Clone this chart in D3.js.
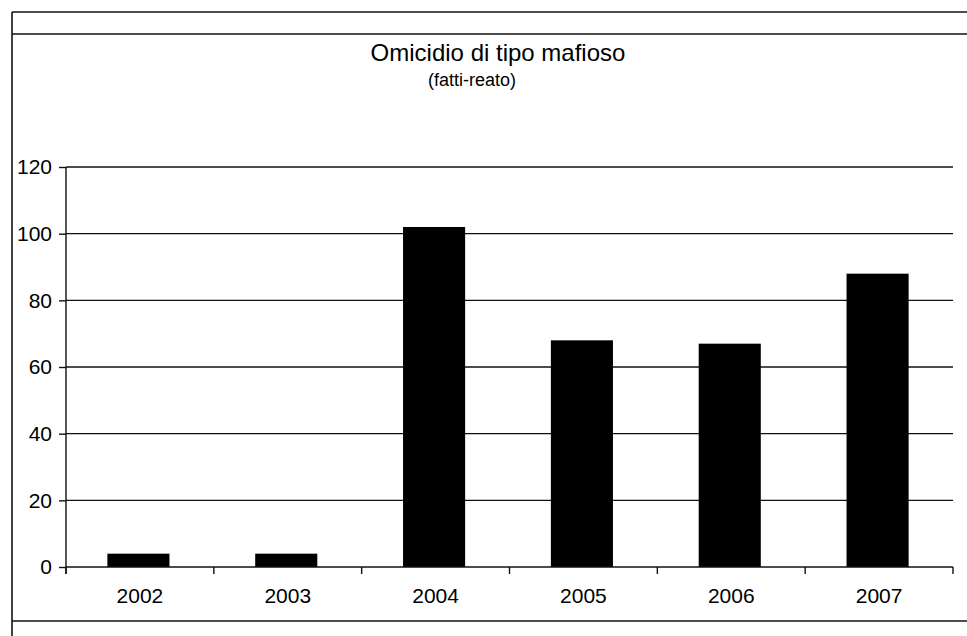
<!DOCTYPE html>
<html>
<head>
<meta charset="utf-8">
<script src="https://cdn.jsdelivr.net/npm/d3@7"></script>
<style>
  html, body { margin: 0; padding: 0; background: #fff; }
  svg { display: block; font-family: "Liberation Sans", Arial, Helvetica, sans-serif; }
</style>
</head>
<body>
<svg id="chart" width="967" height="636"></svg>
<script>
const categories = ["2002", "2003", "2004", "2005", "2006", "2007"];
const values = [4, 4, 102, 68, 67, 88];
const yTicks = [0, 20, 40, 60, 80, 100, 120];
const titleText = "Omicidio di tipo mafioso";
const subtitleText = "(fatti-reato)";

const svg = d3.select("#chart");
const W = 967, H = 636;

// outer frame lines
const frame = svg.append("g").attr("stroke", "#111").attr("stroke-width", 1.6).attr("fill", "none");
frame.append("line").attr("x1", 12).attr("x2", W).attr("y1", 12).attr("y2", 12);
frame.append("line").attr("x1", 12).attr("x2", W).attr("y1", 34).attr("y2", 34);
frame.append("line").attr("x1", 12).attr("x2", W).attr("y1", 621).attr("y2", 621);
frame.append("line").attr("x1", 12).attr("x2", 12).attr("y1", 12).attr("y2", H);

const pLeft = 66, pRight = 953, pTop = 167, pBottom = 567;

const x = d3.scaleBand().domain(categories).range([pLeft, pRight]).padding(0);
const y = d3.scaleLinear().domain([0, 120]).range([pBottom, pTop]);

// gridlines
svg.append("g").selectAll("line")
  .data(yTicks.filter(d => d > 0))
  .join("line")
  .attr("x1", pLeft).attr("x2", pRight)
  .attr("y1", d => y(d)).attr("y2", d => y(d))
  .attr("stroke", "#111").attr("stroke-width", 1.4);

// bars
const barFrac = 0.42;
svg.append("g").selectAll("rect")
  .data(categories.map((c, i) => ({c, v: values[i]})))
  .join("rect")
  .attr("x", d => x(d.c) + x.bandwidth() * (1 - barFrac) / 2 - 1.5)
  .attr("width", x.bandwidth() * barFrac)
  .attr("y", d => y(d.v))
  .attr("height", d => y(0) - y(d.v))
  .attr("fill", "#000");

// y axis
const yAxis = svg.append("g")
  .attr("transform", `translate(${pLeft},0)`)
  .call(d3.axisLeft(y).tickValues(yTicks).tickSize(7).tickPadding(7).tickSizeOuter(0));
yAxis.select(".domain").attr("stroke", "#111").attr("stroke-width", 1.4)
  .attr("d", `M0,${pTop}V${pBottom + 7}`);
yAxis.selectAll(".tick line").attr("stroke", "#111").attr("stroke-width", 1.4);
yAxis.selectAll("text").attr("font-size", 21).attr("fill", "#000")
  .attr("font-family", "'Liberation Sans', Arial, sans-serif");

// x axis
const xAxis = svg.append("g").attr("transform", `translate(0,${pBottom})`);
xAxis.append("line").attr("x1", pLeft).attr("x2", pRight).attr("y1", 0).attr("y2", 0)
  .attr("stroke", "#111").attr("stroke-width", 1.4);
const boundaries = categories.map(c => x(c)).concat([x(categories[categories.length - 1]) + x.bandwidth()]);
xAxis.selectAll("line.tk").data(boundaries).join("line").attr("class", "tk")
  .attr("x1", d => d).attr("x2", d => d).attr("y1", 0).attr("y2", 7)
  .attr("stroke", "#111").attr("stroke-width", 1.4);
xAxis.selectAll("text").data(categories).join("text")
  .attr("x", d => x(d) + x.bandwidth() / 2)
  .attr("y", 36)
  .attr("text-anchor", "middle")
  .attr("font-size", 21)
  .attr("fill", "#000")
  .text(d => d);

// titles
svg.append("text").attr("x", 498).attr("y", 61).attr("text-anchor", "middle")
  .attr("font-size", 24).attr("fill", "#000").text(titleText);
svg.append("text").attr("x", 472).attr("y", 86).attr("text-anchor", "middle")
  .attr("font-size", 18).attr("fill", "#000").text(subtitleText);
</script>
</body>
</html>
